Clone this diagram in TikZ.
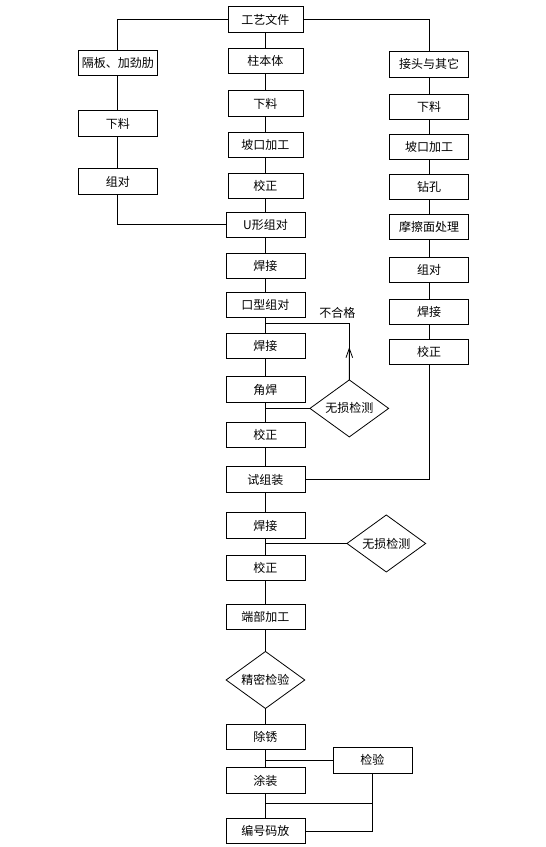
\documentclass[tikz,border=0pt]{standalone}
\usepackage{fontspec}
\setmainfont{Noto Sans CJK SC}
\usepackage{tikz}
\usetikzlibrary{positioning,arrows.meta,shapes.geometric,calc}

\begin{document}
\begin{tikzpicture}[
 line width=0.6pt,
 font=\fontsize{9}{10}\selectfont,
 box/.style={rectangle, draw, text centered, minimum width=59.25pt, minimum height=19pt, inner sep=0pt, outer sep=0pt},
 topbox/.style={box, minimum width=56.25pt},
 check/.style={diamond, draw, aspect=1.4, minimum width=59pt, minimum height=42.75pt, inner sep=0pt, outer sep=0pt},
 barb/.style={-{Straight Barb[length=7pt,width=5pt]}}
 ]
 \useasboundingbox (0,0) rectangle (409.5pt,-635.25pt);
 % Main column
 \node[topbox] (gongyi) at (199.1pt,-14.6pt) {工艺文件};
 \node[topbox, below=12pt of gongyi] (zhuti) {柱本体};
 \node[topbox, below=13pt of zhuti] (xl1) {下料};
 \node[topbox, below=12pt of xl1] (pokou1) {坡口加工};
 \node[topbox, below=12pt of pokou1] (jz1) {校正};
 \node[box, below=10pt of jz1] (uzd) {U形组对};
 \node[box, below=12pt of uzd] (hj1) {焊接};
 \node[box, below=10pt of hj1] (kzd) {口型组对};
 \node[box, below=12pt of kzd] (hj2) {焊接};
 \node[box, below=13.5pt of hj2] (jiaohan) {角焊};
 \node[box, below=15pt of jiaohan] (jz2) {校正};
 \node[box, below=14.5pt of jz2] (shizu) {试组装};
 \node[box, below=15.5pt of shizu] (hj3) {焊接};
 \node[box, below=13pt of hj3] (jz3) {校正};
 \node[box, below=17.5pt of jz3] (duanbu) {端部加工};
 \node[check, below=16.5pt of duanbu] (jingmi) {精密检验};
 \node[box, below=12pt of jingmi] (chuxiu) {除锈};
 \node[box, below=13.5pt of chuxiu] (tuzhuang) {涂装};
 \node[box, below=19pt of tuzhuang] (bianhao) {编号码放};
 % Right column
 \node[box, below right=14.7pt and 65pt of gongyi] (jietou) {接头与其它};
 \node[box, below=13pt of jietou] (xl2) {下料};
 \node[box, below=11pt of xl2] (pokou2) {坡口加工};
 \node[box, below=11pt of pokou2] (zuankong) {钻孔};
 \node[box, below=11pt of zuankong] (moca) {摩擦面处理};
 \node[box, below=13pt of moca] (zd2) {组对};
 \node[box, below=12.5pt of zd2] (hj4) {焊接};
 \node[box, below=11pt of hj4] (jz4) {校正};
 % Left column
 \node[box, below left=13.6pt and 53pt of gongyi] (geban) {隔板、加劲肋};
 \node[box, below=26.4pt of geban] (xl3) {下料};
 \node[box, below=24.5pt of xl3] (zd3) {组对};
 % Checks on the side
 \node[check, right=3.75pt of jiaohan.south east, yshift=-4.7pt] (ndt1) {无损检测};
 \node[check, right=31.5pt of hj3.south east, yshift=-4pt] (ndt2) {无损检测};
 \node[box, right=21pt of chuxiu.south east, anchor=north west, yshift=1.6pt] (jianyan) {检验};
 % Main column lines
 \draw (gongyi) -- (zhuti);
 \draw (zhuti) -- (xl1);
 \draw (xl1) -- (pokou1);
 \draw (pokou1) -- (jz1);
 \draw (jz1) -- (uzd);
 \draw (uzd) -- (hj1);
 \draw (hj1) -- (kzd);
 \draw (kzd) -- (hj2);
 \draw (hj2) -- (jiaohan);
 \draw (jiaohan) -- (jz2);
 \draw (jz2) -- (shizu);
 \draw (shizu) -- (hj3);
 \draw (hj3) -- (jz3);
 \draw (jz3) -- (duanbu);
 \draw (duanbu) -- (jingmi);
 \draw (jingmi) -- (chuxiu);
 \draw (chuxiu) -- (tuzhuang);
 \draw (tuzhuang) -- (bianhao);
 % Right column lines
 \draw (gongyi.east) -| (jietou.north);
 \draw (jietou) -- (xl2);
 \draw (xl2) -- (pokou2);
 \draw (pokou2) -- (zuankong);
 \draw (zuankong) -- (moca);
 \draw (moca) -- (zd2);
 \draw (zd2) -- (hj4);
 \draw (hj4) -- (jz4);
 \draw (jz4.south) |- (shizu.east);
 % Left column lines
 \draw (gongyi.west) -| (geban.north);
 \draw (geban) -- (xl3);
 \draw (xl3) -- (zd3);
 \draw (zd3.south) |- (uzd.west);
 % Inspection loop (failed goes back)
 \coordinate (back) at ($(kzd.south)!0.375!(hj2.north)$);
 \draw (ndt1.west) -- (ndt1.west -| jiaohan.south);
 \draw (ndt1.north) |- (back);
 \draw[barb] (ndt1.north) -- ($(ndt1.north)!0.58!(ndt1.north |- back)$);
 \node[above=0pt, xshift=-9pt] (buhege) at (ndt1.north |- back) {不合格};
 \draw (ndt2.west) -- (ndt2.west -| hj3.south);
 % Inspection before marking
 \coordinate (merge) at ($(tuzhuang.south)!0.4!(bianhao.north)$);
 \draw (jianyan.west) -- (jianyan.west -| chuxiu.south);
 \draw (jianyan.south) |- (bianhao.east);
 \draw (merge) -- (merge -| jianyan.south);
\end{tikzpicture}
\end{document}
